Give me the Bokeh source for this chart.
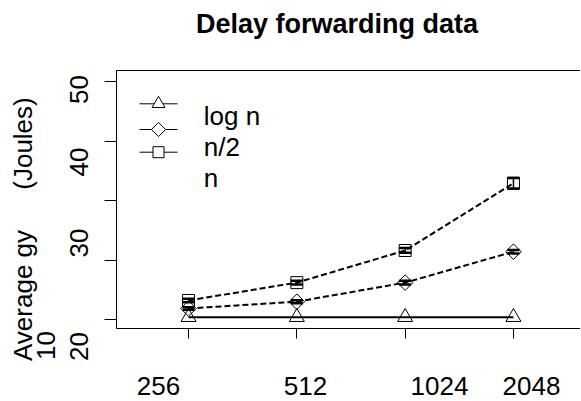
import numpy as np
from bokeh.plotting import figure
from bokeh.core.properties import value
from bokeh.models import (Range1d, FixedTicker, LinearAxis, Whisker,
                          ColumnDataSource, TeeHead, CustomJSTickFormatter)
from bokeh.embed import file_html
from bokeh.resources import INLINE

# ---------------- data ----------------
n_values = [256, 512, 1024, 2048]
x_tick_labels = ["256", "512", "1024", "2048"]
logn_energy = [10.4, 10.4, 10.4, 10.4]
half_energy = [11.85, 13.0, 16.2, 21.4]
half_err = [0.2, 0.25, 0.3, 0.3]
full_energy = [13.2, 16.2, 21.6, 32.9]
full_err = [0.3, 0.3, 0.4, 0.9]
y_ticks = [10, 20, 30, 40, 50]
y_tick_labels = ["50", "40", "30", "20"]
series_names = ["log n", "n/2", "n"]
title_text = "Delay forwarding data"
y_title_parts = ["Average gy", "10", "(Joules)"]

# ---------------- layout (canvas px) ----------------
W, H = 580, 400
FL, FT, FW, FH = 116, 70, 464, 258
LX0, LX1 = 7.335, 11.619
Y0, Y1 = 8.49, 51.85
FONT = "Liberation Sans"
TXT_SHIFT = 10  # baseline correction of the svg text renderer


def dx(px):  # canvas px -> data x
    return 2 ** (LX0 + (px - FL) / FW * (LX1 - LX0))


def dy(py):  # canvas px -> data y
    return Y1 - (py - FT) / FH * (Y1 - Y0)


p = figure(width=W, height=H, x_axis_type="log",
           x_range=Range1d(2 ** LX0, 2 ** LX1), y_range=Range1d(Y0, Y1),
           output_backend="svg", toolbar_location=None,
           min_border_left=FL, min_border_top=FT,
           min_border_bottom=H - FT - FH, min_border_right=0)
p.outline_line_color = None
p.xgrid.visible = False
p.ygrid.visible = False
p.background_fill_color = "white"
p.border_fill_color = "white"

blank = CustomJSTickFormatter(code="return ''")

# bottom axis
xa = p.xaxis[0]
xa.ticker = FixedTicker(ticks=n_values)
xa.formatter = blank
xa.major_tick_out = 10
xa.major_tick_in = 0
xa.minor_tick_line_color = None
xa.axis_line_color = "black"
xa.major_tick_line_color = "black"

# left axis
ya = p.yaxis[0]
ya.ticker = FixedTicker(ticks=y_ticks)
ya.formatter = blank
ya.major_tick_out = 12
ya.major_tick_in = 0
ya.minor_tick_line_color = None
ya.axis_line_color = "black"
ya.major_tick_line_color = "black"

# top box line
top = LinearAxis(ticker=FixedTicker(ticks=[]), formatter=blank,
                 major_tick_line_color=None, minor_tick_line_color=None,
                 axis_line_color="black")
p.add_layout(top, "above")

# ---------------- data marks ----------------
p.line(n_values, logn_energy, line_color="black", line_width=2)
p.line(n_values, half_energy, line_color="black", line_width=2, line_dash="6 3")
p.line(n_values, full_energy, line_color="black", line_width=2, line_dash="6 3")

p.scatter(n_values, logn_energy, marker="triangle", size=15,
          fill_color=None, line_color="black", line_width=1)
p.scatter(n_values, half_energy, marker="square", angle=np.pi / 4, size=11,
          fill_color=None, line_color="black", line_width=1)
p.scatter(n_values, full_energy, marker="square", size=12,
          fill_color=None, line_color="black", line_width=1)

for vals, errs in ((half_energy, half_err), (full_energy, full_err)):
    src = ColumnDataSource(dict(base=n_values,
                                lower=[v - e for v, e in zip(vals, errs)],
                                upper=[v + e for v, e in zip(vals, errs)]))
    p.add_layout(Whisker(source=src, base="base", lower="lower", upper="upper",
                         dimension="height", line_width=1.5,
                         upper_head=TeeHead(size=12, line_width=2.5),
                         lower_head=TeeHead(size=12, line_width=2.5)))

# ---------------- legend (manual) ----------------
leg_key_y = [103.3, 129, 151.7]
leg_markers = [("triangle", 0, 13), ("square", np.pi / 4, 10), ("square", 0, 11)]
for (mk, ang, sz), ky in zip(leg_markers, leg_key_y):
    p.segment(x0=[dx(139)], y0=[dy(ky)], x1=[dx(177)], y1=[dy(ky)],
              line_color="black", line_width=1)
    p.scatter([dx(158)], [dy(ky)], marker=mk, angle=ang, size=sz,
              fill_color="white", line_color="black", line_width=1)


def add_text(texts, xs, ys, angle=0.0, align="center", bold=False, size="26px"):
    if angle:
        xs = [v - TXT_SHIFT for v in xs]
    else:
        ys = [v - TXT_SHIFT for v in ys]
    src = ColumnDataSource(dict(x=[dx(v) for v in xs], y=[dy(v) for v in ys],
                                text=list(texts)))
    p.text(x="x", y="y", text="text", source=src, angle=angle,
           text_align=align, text_baseline="alphabetic",
           text_font=value(FONT), text_font_size=size,
           text_font_style="bold" if bold else "normal",
           text_color="black", level="overlay")


add_text(series_names, [203.3] * 3, [125, 156.5, 187], align="left")
add_text([title_text], [336.5], [33.3], bold=True, size="27px")
add_text(x_tick_labels, [158, 305, 439, 531], [395.3] * 4)
add_text(y_tick_labels, [88] * 4, [89, 161.5, 242.5, 346], angle=np.pi / 2)
add_text(y_title_parts, [32, 55, 32], [295, 345, 143], angle=np.pi / 2)

open("out.html", "w").write(file_html(p, INLINE))
